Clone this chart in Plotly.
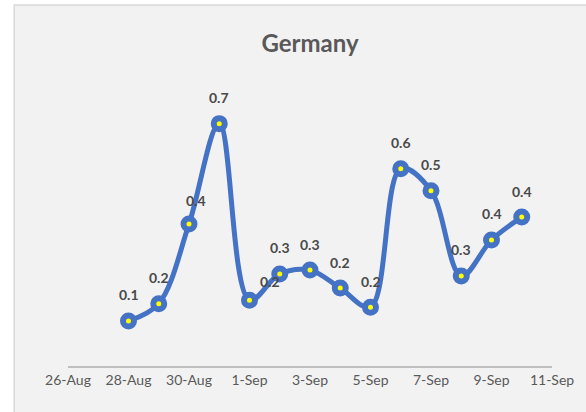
import plotly.graph_objects as go

dates = ["2020-08-28", "2020-08-29", "2020-08-30", "2020-08-31", "2020-09-01",
         "2020-09-02", "2020-09-03", "2020-09-04", "2020-09-05", "2020-09-06",
         "2020-09-07", "2020-09-08", "2020-09-09", "2020-09-10"]
values = [0.13, 0.18, 0.41, 0.70, 0.19, 0.266, 0.277, 0.225, 0.17, 0.57,
          0.506, 0.26, 0.364, 0.43]
title_text = "Germany"

W, H = 586, 412
ml, mr, mt, mb = 68, 32, 89, 46
pw, ph = W - ml - mr, H - mt - mb

def px_to_paper_x(px):
    return (px - ml) / pw

def px_to_paper_y(py):
    return (H - mb - py) / ph

fig = go.Figure()
fig.add_trace(go.Scatter(
    x=dates, y=values,
    mode="lines+markers",
    line=dict(color="#4472C4", width=5, shape="spline", smoothing=1.0),
    marker=dict(size=11, color="#FFFF00", line=dict(color="#4472C4", width=6)),
    cliponaxis=False,
    hoverinfo="skip",
))

# data labels placed above each point
label_xshift = [0] * len(values)
label_yshift = [26] * len(values)
label_xshift[2] = 7
label_yshift[2] = 24
label_xshift[4] = 20
label_yshift[4] = 19
for d, v, dx, dy in zip(dates, values, label_xshift, label_yshift):
    fig.add_annotation(x=d, y=v, text=f"<b>{v:.1f}</b>", showarrow=False,
                       xshift=dx, yshift=dy, xanchor="center", yanchor="middle",
                       font=dict(family="Lato", size=14, color="#4a4a4a"))

fig.add_shape(type="rect", xref="paper", yref="paper",
              x0=px_to_paper_x(14), x1=px_to_paper_x(600),
              y0=px_to_paper_y(425), y1=px_to_paper_y(5),
              fillcolor="#F2F2F2", line=dict(color="#D9D9D9", width=1.5),
              layer="below")

fig.update_layout(
    width=W, height=H,
    margin=dict(l=ml, r=mr, t=mt, b=mb),
    paper_bgcolor="white",
    plot_bgcolor="rgba(0,0,0,0)",
    showlegend=False,
    title=dict(text="<b>" + title_text + "</b>", x=px_to_paper_x(311), xref="paper",
               xanchor="center", y=1 - 44 / H, yanchor="middle",
               font=dict(family="Lato", size=24, color="#595959")),
    xaxis=dict(
        type="date",
        range=["2020-08-26", "2020-09-11"],
        tick0="2020-08-26", dtick=2 * 86400000,
        tickformat="%-d-%b",
        showgrid=False, zeroline=False,
        showline=True, linecolor="#BFBFBF", linewidth=1.5,
        ticks="", ticklen=0,
        tickfont=dict(family="Lato", size=14, color="#595959"),
    ),
    yaxis=dict(range=[0, 0.8], visible=False),
)

fig.write_html("out.html", config={"displayModeBar": False},
               post_script="document.body.style.margin='0';")
